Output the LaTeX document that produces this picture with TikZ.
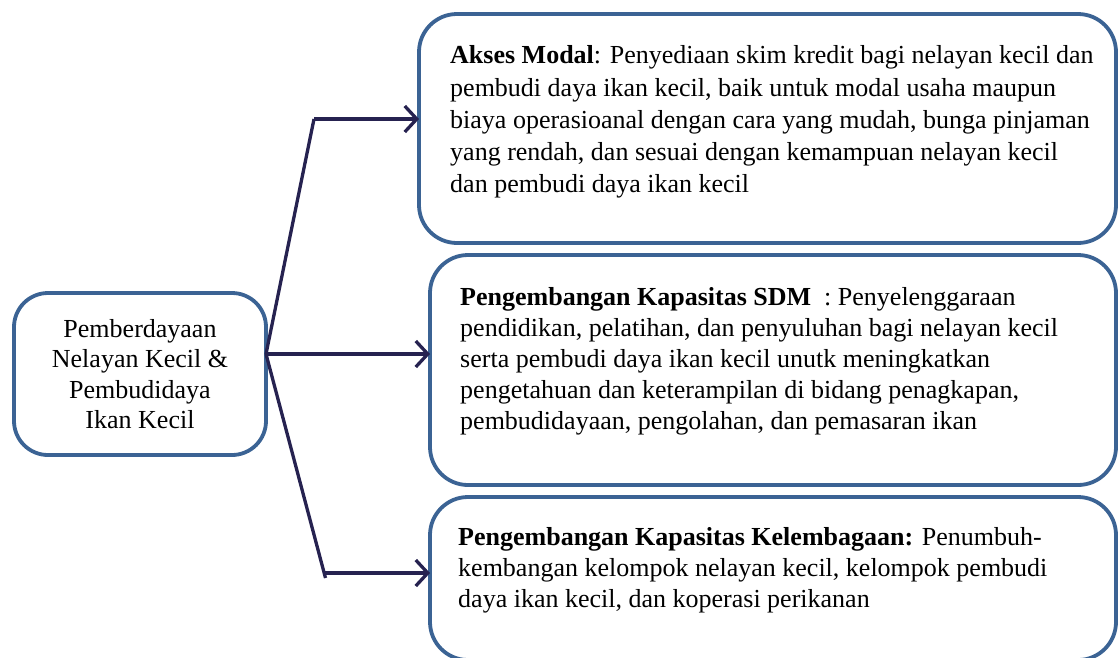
\documentclass[tikz,border=0pt]{standalone}
\usepackage{fontspec}
\setmainfont{Liberation Serif}
\usetikzlibrary{arrows.meta}
\definecolor{boxblue}{RGB}{59,99,148}
\definecolor{navy}{RGB}{38,34,80}
\begin{document}
\begin{tikzpicture}[x=1pt,y=-1pt,
  box/.style={draw=boxblue, line width=3.8pt, rounded corners=38pt, inner sep=0pt, outer sep=0pt},
  txt/.style={anchor=north west, align=left, inner sep=0pt, font=\fontsize{26}{32.3}\selectfont},
  txtb/.style={anchor=north west, align=left, inner sep=0pt, font=\fontsize{26}{31}\selectfont},
  conn/.style={draw=navy, line width=3.3pt},
  arr/.style={conn, -{Straight Barb[length=12pt,width=26pt,line width=3.3pt]}}
]
\useasboundingbox (0,0) rectangle (1118,657);
% boxes
\node[box, rounded corners=34pt, minimum width=252pt, minimum height=162pt, align=center,
      font=\fontsize{26}{30.5}\selectfont] (src) at (140,374)
  {Pemberdayaan\\Nelayan Kecil \&\\Pembudidaya\\Ikan Kecil};
\node[box, minimum width=697pt, minimum height=229pt] (top) at (767.5,128.5) {};
\node[box, minimum width=686pt, minimum height=230pt] (mid) at (773,370) {};
\node[box, minimum width=686pt, minimum height=163pt] (bot) at (773,578.5) {};
% texts
\node[txt] (ttop) at (450,45.5) {\textbf{Akses Modal}: Penyediaan skim kredit bagi nelayan kecil dan\\
pembudi daya ikan kecil, baik untuk modal usaha maupun\\
biaya operasioanal dengan cara yang mudah, bunga pinjaman\\
yang rendah, dan sesuai dengan kemampuan nelayan kecil\\
dan pembudi daya ikan kecil};
\node[txtb] (tmid) at (460,287.5) {\textbf{Pengembangan Kapasitas SDM}\ \ : Penyelenggaraan\\
pendidikan, pelatihan, dan penyuluhan bagi nelayan kecil\\
serta pembudi daya ikan kecil unutk meningkatkan\\
pengetahuan dan keterampilan di bidang penagkapan,\\
pembudidayaan, pengolahan, dan pemasaran ikan};
\node[txtb] (tbot) at (458,527.5) {\textbf{Pengembangan Kapasitas Kelembagaan:} Penumbuh-\\
kembangan kelompok nelayan kecil, kelompok pembudi\\
daya ikan kecil, dan koperasi perikanan};
% connectors
\coordinate (jy) at (0,354);
\coordinate (j) at (src.east |- jy);
\coordinate (c1) at (314,119);
\coordinate (c3) at (324,573);
\coordinate (c3e) at (325.5,578);
\draw[conn] (j) -- (c1);
\draw[conn] (j) -- (c3e);
\draw[arr] (c1) -- (c1 -| top.west);
\draw[arr] (j) -- (j -| mid.west);
\draw[arr] (c3) -- (c3 -| bot.west);
\end{tikzpicture}
\end{document}
